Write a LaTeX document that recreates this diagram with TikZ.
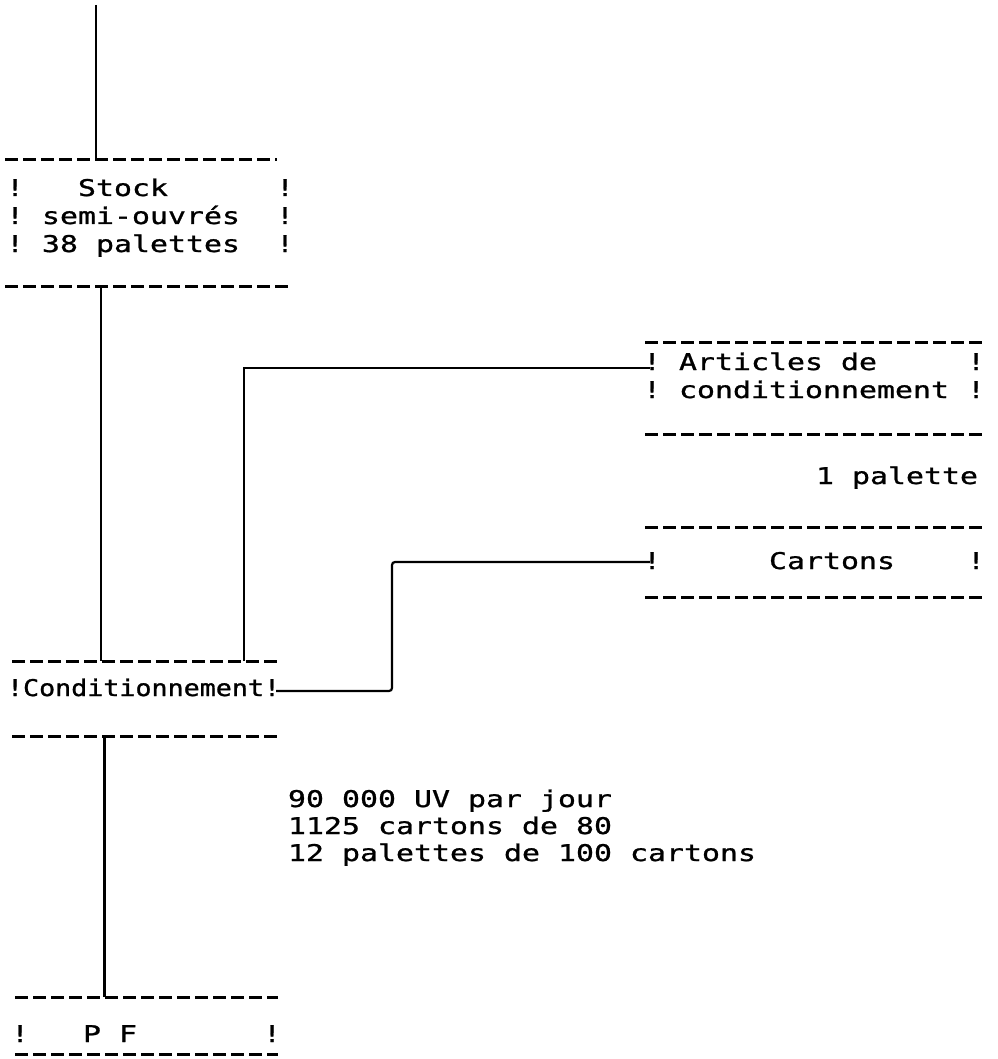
\documentclass[tikz,border=0pt]{standalone}
\usepackage{fontspec}
\newfontfamily\tw[FakeStretch=1.3,FakeBold=1.1]{DejaVu Sans Mono}
\newfontfamily\twc[FakeStretch=1.16,FakeBold=1.1]{DejaVu Sans Mono}
\begin{document}
\begin{tikzpicture}[x=1pt,y=-1pt,
  dashrule/.style={line width=3pt, dash pattern=on 12.5pt off 5.5pt},
  conn/.style={line width=2.2pt},
  thinconn/.style={line width=1.6pt},
  thickconn/.style={line width=3pt},
  txt/.style={anchor=base west, inner sep=0pt, outer sep=0pt, font=\tw\fontsize{23}{23}\selectfont},
  ctxt/.style={anchor=base west, inner sep=0pt, outer sep=0pt, font=\twc\fontsize{23}{23}\selectfont},
  box/.style={inner sep=0pt, outer sep=0pt, anchor=north west}]
\useasboundingbox (0,0) rectangle (997,1059);

% boxes
\node[box, minimum width=283pt, minimum height=126pt] (stock) at (5,160) {};
\node[box, minimum width=337pt, minimum height=92pt] (art) at (645,342) {};
\node[box, minimum width=337pt, minimum height=70pt] (cart) at (645,527) {};
\node[box, minimum width=266pt, minimum height=75pt] (cond) at (12,661) {};
\node[box, minimum width=263pt, minimum height=57pt] (pf) at (15,997) {};

% dashed rules
\draw[dashrule] (stock.north west) -- ++(272,0);
\draw[dashrule] (stock.south west) -- (stock.south east);
\draw[dashrule] (art.north west) -- (art.north east);
\draw[dashrule] (art.south west) -- (art.south east);
\draw[dashrule] (cart.north west) -- (cart.north east);
\draw[dashrule] (cart.south west) -- (cart.south east);
\draw[dashrule] (cond.north west) -- (cond.north east);
\draw[dashrule] (cond.south west) -- (cond.south east);
\draw[dashrule] (pf.north west) -- (pf.north east);
\draw[dashrule] (pf.south west) -- (pf.south east);

% texts
\node[txt] (s1) at (6,196) {!~~~Stock~~~~~~!};
\node[txt] (s2) at (6,224) {!~semi-ouvrés~~!};
\node[txt] (s3) at (6,252) {!~38~palettes~~!};
\node[txt] (a1) at (643,370) {!~Articles~de~~~~~!};
\node[txt] (a2) at (643,398) {!~conditionnement~!};
\node[txt, anchor=base east] (pal) at (978,484) {1 palette};
\node[txt] (c1) at (643,569) {!~~~~~~Cartons~~~~!};
\node[ctxt] (ct) at (7,696) {!Conditionnement!};
\node[txt] (d1) at (288,807) {90 000 UV par jour};
\node[txt] (d2) at (288,834) {1125 cartons de 80};
\node[txt] (d3) at (288,861) {12 palettes de 100 cartons};
\node[txt] (p1) at (11,1042) {!~~~P~F~~~~~~~!};

% connectors
\coordinate (top) at (96,5);
\draw[thinconn] (top) -- (top |- stock.north);
\draw[thinconn] (101,0 |- stock.south) -- (101,0 |- cond.north);
\draw[conn] (244,0 |- cond.north) -- (244,368) -- ([shift={(7pt,2pt)}]a1.base west);
\draw[conn, rounded corners=3pt] ([shift={(-4pt,5pt)}]ct.base east) -- (392,691) -- (392,562) -- ([shift={(7pt,7pt)}]c1.base west);
\draw[thickconn] (104,0 |- cond.south) -- (104,0 |- pf.north);
\end{tikzpicture}
\end{document}
